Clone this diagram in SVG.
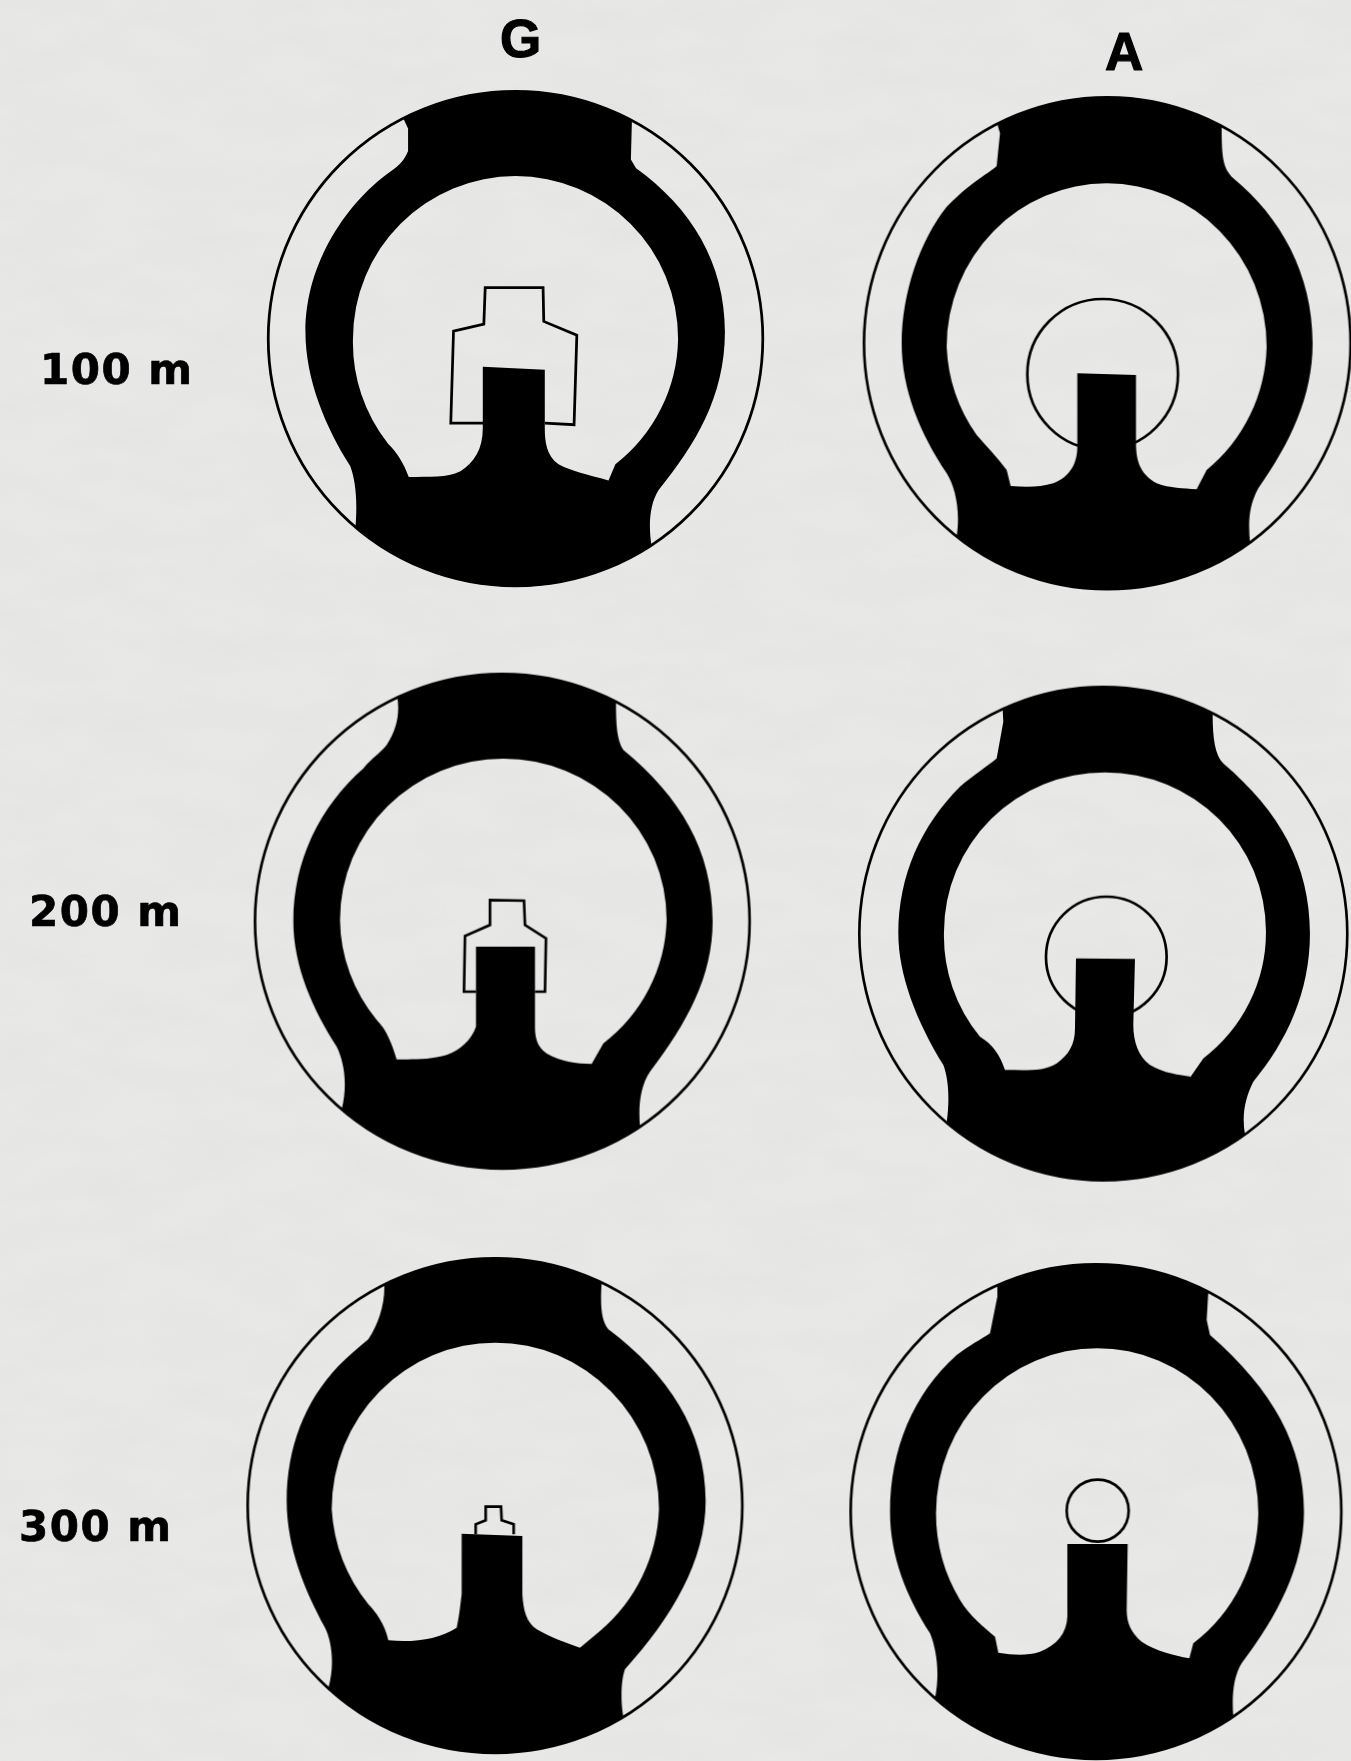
<svg xmlns="http://www.w3.org/2000/svg" width="1351" height="1761" viewBox="0 0 1351 1761">
<style>
.ink{fill:#000;fill-rule:evenodd}
.line{fill:none;stroke:#000;stroke-width:8;stroke-linejoin:miter}
.t{font-family:"DejaVu Sans","Liberation Sans",sans-serif;font-weight:700;font-size:42px;letter-spacing:1.5px;fill:#000;stroke:#000;stroke-width:0.7px}
.h{font-family:"Liberation Sans",Arial,sans-serif;font-weight:700;font-size:53px;fill:#000;stroke:#000;stroke-width:1.2px}
</style>
<defs>
<filter id="soft" x="-5%" y="-5%" width="110%" height="110%"><feGaussianBlur stdDeviation="0.6"/></filter>
<filter id="grain" x="0" y="0" width="100%" height="100%"><feTurbulence type="fractalNoise" baseFrequency="0.012 0.03" numOctaves="3" seed="7"/><feColorMatrix type="matrix" values="0 0 0 0 0.5  0 0 0 0 0.5  0 0 0 0 0.5  0.6 0 0 0 -0.22"/></filter>
</defs>
<rect width="1351" height="1761" fill="#e8e8e7"/>
<rect width="1351" height="1761" filter="url(#grain)" opacity="0.25"/>
<g filter="url(#soft)">
<g id="g-100" transform="translate(240,70) scale(0.3444)">
<circle class="line" cx="800" cy="780" r="718"/>
<path class="ink" d="M474,140 L488,170 L488,235 C480,255 470,270 450,285 C310,380 190,560 190,760 C190,900 250,1040 320,1150 C335,1190 342,1250 335,1330 A720,720 0 0 0 1195,1382 C1185,1320 1190,1260 1215,1220 C1320,1090 1408,950 1408,760 C1408,560 1310,400 1150,285 L1135,260 L1138,145 A720,720 0 0 0 474,140 Z M328,780 A472,472 0 0 1 1272,780 A472,472 0 0 1 1090,1145 L1070,1192 C1010,1175 960,1165 925,1145 C890,1120 885,1080 885,1040 L885,870 L705,862 L705,1040 C705,1100 680,1140 640,1165 C600,1185 550,1180 490,1182 C475,1140 455,1110 430,1085 A472,472 0 0 1 328,780 Z"/>
<path class="line" d="M708,1025 L612,1025 L620,758 L708,738 L712,632 L880,632 L882,730 L978,770 L970,1030 L885,1025"/>
</g>
<g id="a-100" transform="translate(840,80) scale(0.3333)">
<ellipse class="line" cx="802" cy="790" rx="730" ry="738"/>
<circle class="line" cx="788" cy="883" r="226"/>
<path class="ink" d="M472,132 L480,160 L470,258 C440,285 400,300 320,380 C240,480 185,640 185,790 C185,930 240,1060 320,1180 C345,1220 362,1290 350,1370 A730,738 0 0 0 1230,1388 C1225,1330 1225,1280 1255,1225 C1350,1090 1418,950 1418,790 C1418,580 1320,410 1180,295 C1150,265 1145,240 1145,139 A730,738 0 0 0 472,132 Z M320,800 A480,490 0 0 1 1280,800 A480,490 0 0 1 1100,1170 L1070,1228 C1030,1225 990,1225 950,1210 C905,1185 888,1150 888,1090 L888,885 L712,880 L712,1100 C712,1150 690,1190 640,1210 C600,1222 560,1222 512,1218 L500,1170 C470,1130 440,1100 410,1065 A480,490 0 0 1 320,800 Z"/>
</g>
<g id="g-200" transform="translate(240,660) scale(0.3333)">
<circle class="line" cx="787" cy="784" r="742"/>
<path class="ink" d="M472,112 C480,160 470,210 440,255 C420,280 400,290 370,325 C240,440 160,600 160,784 C160,920 220,1050 290,1160 C310,1200 325,1270 305,1348 A742,742 0 0 0 1200,1400 C1195,1340 1200,1280 1230,1235 C1340,1090 1418,950 1418,784 C1418,570 1320,410 1150,270 C1130,240 1128,190 1128,125 A742,742 0 0 0 472,112 Z M300,780 A490,484 0 0 1 1280,780 A490,484 0 0 1 1090,1150 L1055,1212 C1010,1210 960,1205 920,1180 C890,1160 885,1130 885,1100 L885,860 L708,860 L708,1100 C695,1140 660,1170 620,1185 C570,1200 520,1198 470,1198 C455,1150 440,1110 410,1080 A490,484 0 0 1 300,780 Z"/>
<path class="line" d="M708,995 L672,995 L675,828 L750,795 L750,720 L852,722 L855,795 L918,835 L915,995 L885,995"/>
</g>
<g id="a-200" transform="translate(840,675) scale(0.3333)">
<ellipse class="line" cx="790" cy="776" rx="732" ry="740"/>
<circle class="line" cx="799" cy="846" r="181"/>
<path class="ink" d="M488,102 L490,140 L470,250 C440,275 400,300 360,335 C245,450 175,600 175,776 C175,900 230,1040 310,1170 C325,1210 330,1270 320,1343 A732,740 0 0 0 1215,1378 C1205,1320 1215,1270 1240,1220 C1340,1100 1410,950 1410,776 C1410,570 1320,410 1150,265 C1125,240 1118,190 1118,115 A732,740 0 0 0 488,102 Z M312,770 A483,478 0 0 1 1278,770 A483,478 0 0 1 1090,1150 L1052,1205 C1020,1200 970,1195 930,1170 C895,1145 880,1100 880,1050 L885,852 L708,850 L705,1060 C705,1110 685,1140 650,1165 C610,1190 560,1185 495,1185 C480,1140 460,1110 420,1085 A483,478 0 0 1 312,770 Z"/>
</g>
<g id="g-300" transform="translate(235,1241) scale(0.3333)">
<circle class="line" cx="780" cy="794" r="742"/>
<path class="ink" d="M448,130 C450,190 430,250 400,295 C370,320 340,345 310,375 C210,480 155,620 155,780 C155,920 210,1050 270,1160 C290,1200 300,1270 280,1342 A742,742 0 0 0 1165,1428 C1155,1370 1160,1310 1170,1285 C1310,1130 1412,960 1412,780 C1412,570 1300,400 1120,265 C1100,240 1095,200 1100,125 A742,742 0 0 0 448,130 Z M290,805 A491,500 0 0 1 1272,805 A491,500 0 0 1 1095,1170 L1035,1220 C990,1205 950,1190 905,1165 C875,1145 865,1110 862,1060 L862,885 L680,878 L680,1060 C675,1100 672,1130 665,1160 C610,1195 540,1205 460,1198 C450,1150 420,1110 400,1090 A491,500 0 0 1 290,805 Z"/>
<path class="line" d="M722,880 L722,850 L752,838 L752,797 L798,797 L800,838 L836,850 L836,880"/>
</g>
<g id="a-300" transform="translate(840,1240) scale(0.3333)">
<ellipse class="line" cx="768" cy="815" rx="736" ry="742"/>
<circle class="line" cx="773" cy="812" r="93"/>
<path class="ink" d="M472,136 L472,170 L450,280 C420,300 390,315 350,345 C220,460 150,630 150,815 C150,950 200,1070 270,1180 C290,1230 300,1300 285,1375 A736,742 0 0 0 1180,1430 C1175,1370 1180,1310 1205,1270 C1310,1130 1392,980 1392,815 C1392,620 1300,450 1110,285 L1100,240 L1105,155 A736,742 0 0 0 472,136 Z M288,820 A483,495 0 0 1 1255,820 A483,495 0 0 1 1060,1210 L1048,1255 C1000,1245 950,1235 905,1205 C875,1180 860,1150 860,1110 L863,912 L682,912 L682,1130 C680,1180 650,1215 600,1235 C560,1248 520,1245 475,1238 L465,1190 C430,1160 390,1130 360,1080 A483,495 0 0 1 288,820 Z"/>
</g>
<g id="labels">
<text class="h" x="500" y="57">G</text>
<text class="h" x="1105" y="70">A</text>
<text class="t" x="40" y="384">100 m</text>
<text class="t" x="29" y="926">200 m</text>
<text class="t" x="19" y="1541">300 m</text>
</g>
</g>
</svg>
